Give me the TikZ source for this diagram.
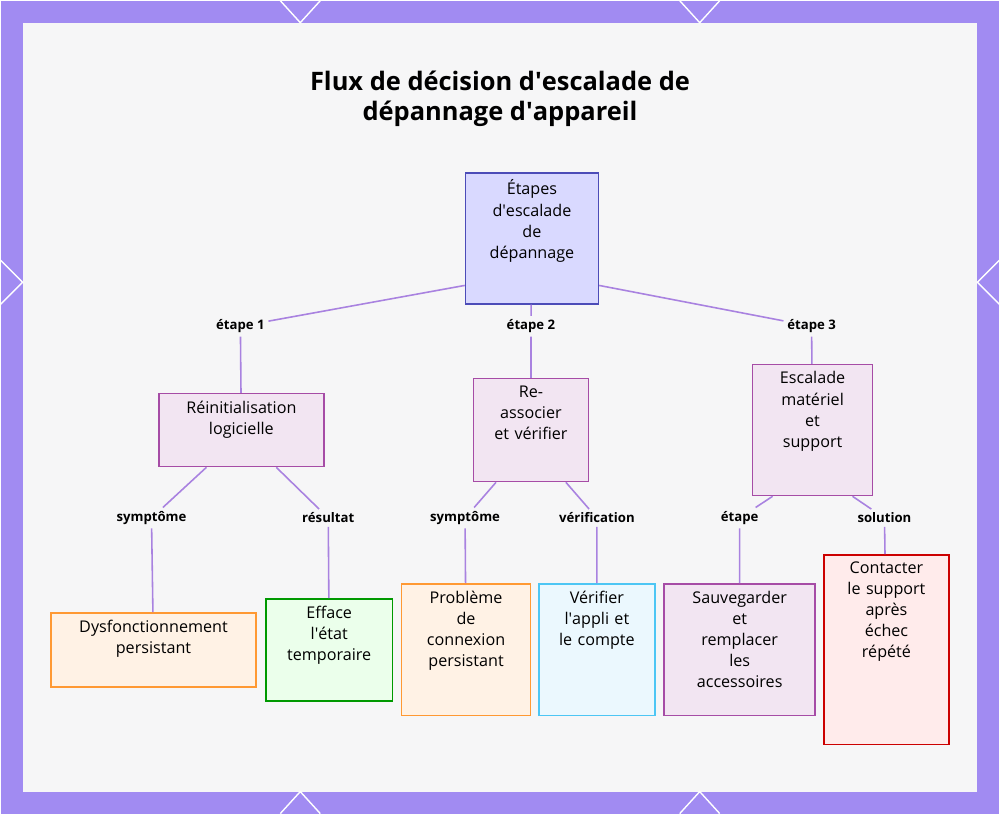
\documentclass[tikz,border=0pt]{standalone}
\usepackage{fontspec}
\setmainfont{Open Sans}
\definecolor{frame}{HTML}{A18BF2}
\definecolor{panel}{HTML}{F6F6F7}
\definecolor{edge}{HTML}{A982E0}
\newlength{\unitpx}
\setlength{\unitpx}{0.02cm}
\newcommand{\topbox}[2]{\parbox[c][#1\unitpx][t]{\linewidth}{\centering #2}}
\newcommand{\q}{\textquotesingle}
\tikzset{
  box/.style={draw, line width=0.9pt, align=center, font=\fontsize{9.2}{12}\selectfont, inner xsep=2pt, inner ysep=7*0.02cm},
  lbl/.style={font=\bfseries\fontsize{7.5}{9}\selectfont, inner sep=2pt},
  link/.style={edge, line width=0.9pt}
}
\begin{document}
\begin{tikzpicture}[x=0.02cm, y=-0.02cm]
        \fill[frame] (0,0) rectangle (1000,814);
        \fill[panel] (22,22) rectangle (978,792);
        \foreach \a in {300,700} {
            \draw[white, line width=0.8pt] (\a-20,0) -- (\a,22) -- (\a+20,0);
            \draw[white, line width=0.8pt] (\a-20,814) -- (\a,792) -- (\a+20,814);
        }
        \draw[white, line width=0.8pt] (0,260) -- (22,282) -- (0,304);
        \draw[white, line width=0.8pt] (1000,260) -- (978,282) -- (1000,304);
        \node[font=\bfseries\fontsize{14.5}{17}\selectfont, align=center] (title) at (500,98)
            {Flux de décision d\q escalade de\\dépannage d\q appareil};

        \node[box, fill=blue!15, draw=blue!60!black!70, text width=126*0.02cm] (root) at (532,238) {\topbox{117}{Étapes\\d\q escalade\\de\\dépannage}};

        \node[lbl] (e1) at (240,326) {étape 1};
        \node[lbl] (e2) at (531,326) {étape 2};
        \node[lbl] (e3) at (812,326) {étape 3};

        \node[box, fill=violet!10, draw=violet!70, text width=158*0.02cm] (reset) at (241,430) {\topbox{59}{Réinitialisation\\logicielle}};
        \node[box, fill=violet!10, draw=violet!70, text width=108*0.02cm] (pair) at (531,430) {\topbox{89}{Re-\\associer\\et vérifier}};
        \node[box, fill=violet!10, draw=violet!70, text width=113*0.02cm] (hard) at (813,430) {\topbox{117}{Escalade\\matériel\\et\\support}};

        \node[lbl] (s1) at (151,518) {symptôme};
        \node[lbl] (r1) at (328,518) {résultat};
        \node[lbl] (s2) at (465,518) {symptôme};
        \node[lbl] (v2) at (597,518) {vérification};
        \node[lbl] (t3) at (740,518) {étape};
        \node[lbl] (o3) at (885,518) {solution};

        \node[box, fill=orange!10, draw=orange!80, text width=198*0.02cm] (dys) at (153,650) {\topbox{60}{Dysfonctionnement\\persistant}};
        \node[box, fill=green!8, draw=green!60!black, text width=120*0.02cm] (eff) at (329,650) {\topbox{88}{Efface\\l\q état\\temporaire}};
        \node[box, fill=orange!10, draw=orange!80, text width=122*0.02cm] (conn) at (466,650) {\topbox{118}{Problème\\de\\connexion\\persistant}};
        \node[box, fill=cyan!8, draw=cyan!70, text width=109*0.02cm] (chk) at (597,650) {\topbox{118}{Vérifier\\l\q appli et\\le compte}};
        \node[box, fill=violet!10, draw=violet!70, text width=144*0.02cm] (save) at (740,650) {\topbox{118}{Sauvegarder\\et\\remplacer\\les\\accessoires}};
        \node[box, fill=red!8, draw=red!80!black, text width=118*0.02cm] (call) at (887,650) {\topbox{176}{Contacter\\le support\\après\\échec\\répété}};

        \draw[link] (root.215) -- (e1) -- (reset);
        \draw[link] (root) -- (e2) -- (pair);
        \draw[link] (root.325) -- (e3) -- (hard);
        \draw[link] (reset.south) ++(-35,0) -- (s1) -- (dys);
        \draw[link] (reset.south) ++(35,0) -- (r1) -- (eff);
        \draw[link] (pair.south) ++(-35,0) -- (s2) -- (conn);
        \draw[link] (pair.south) ++(35,0) -- (v2) -- (chk);
        \draw[link] (hard.south) ++(-40,0) -- (t3) -- (save);
        \draw[link] (hard.south) ++(40,0) -- (o3) -- (call);
\end{tikzpicture}
\end{document}
